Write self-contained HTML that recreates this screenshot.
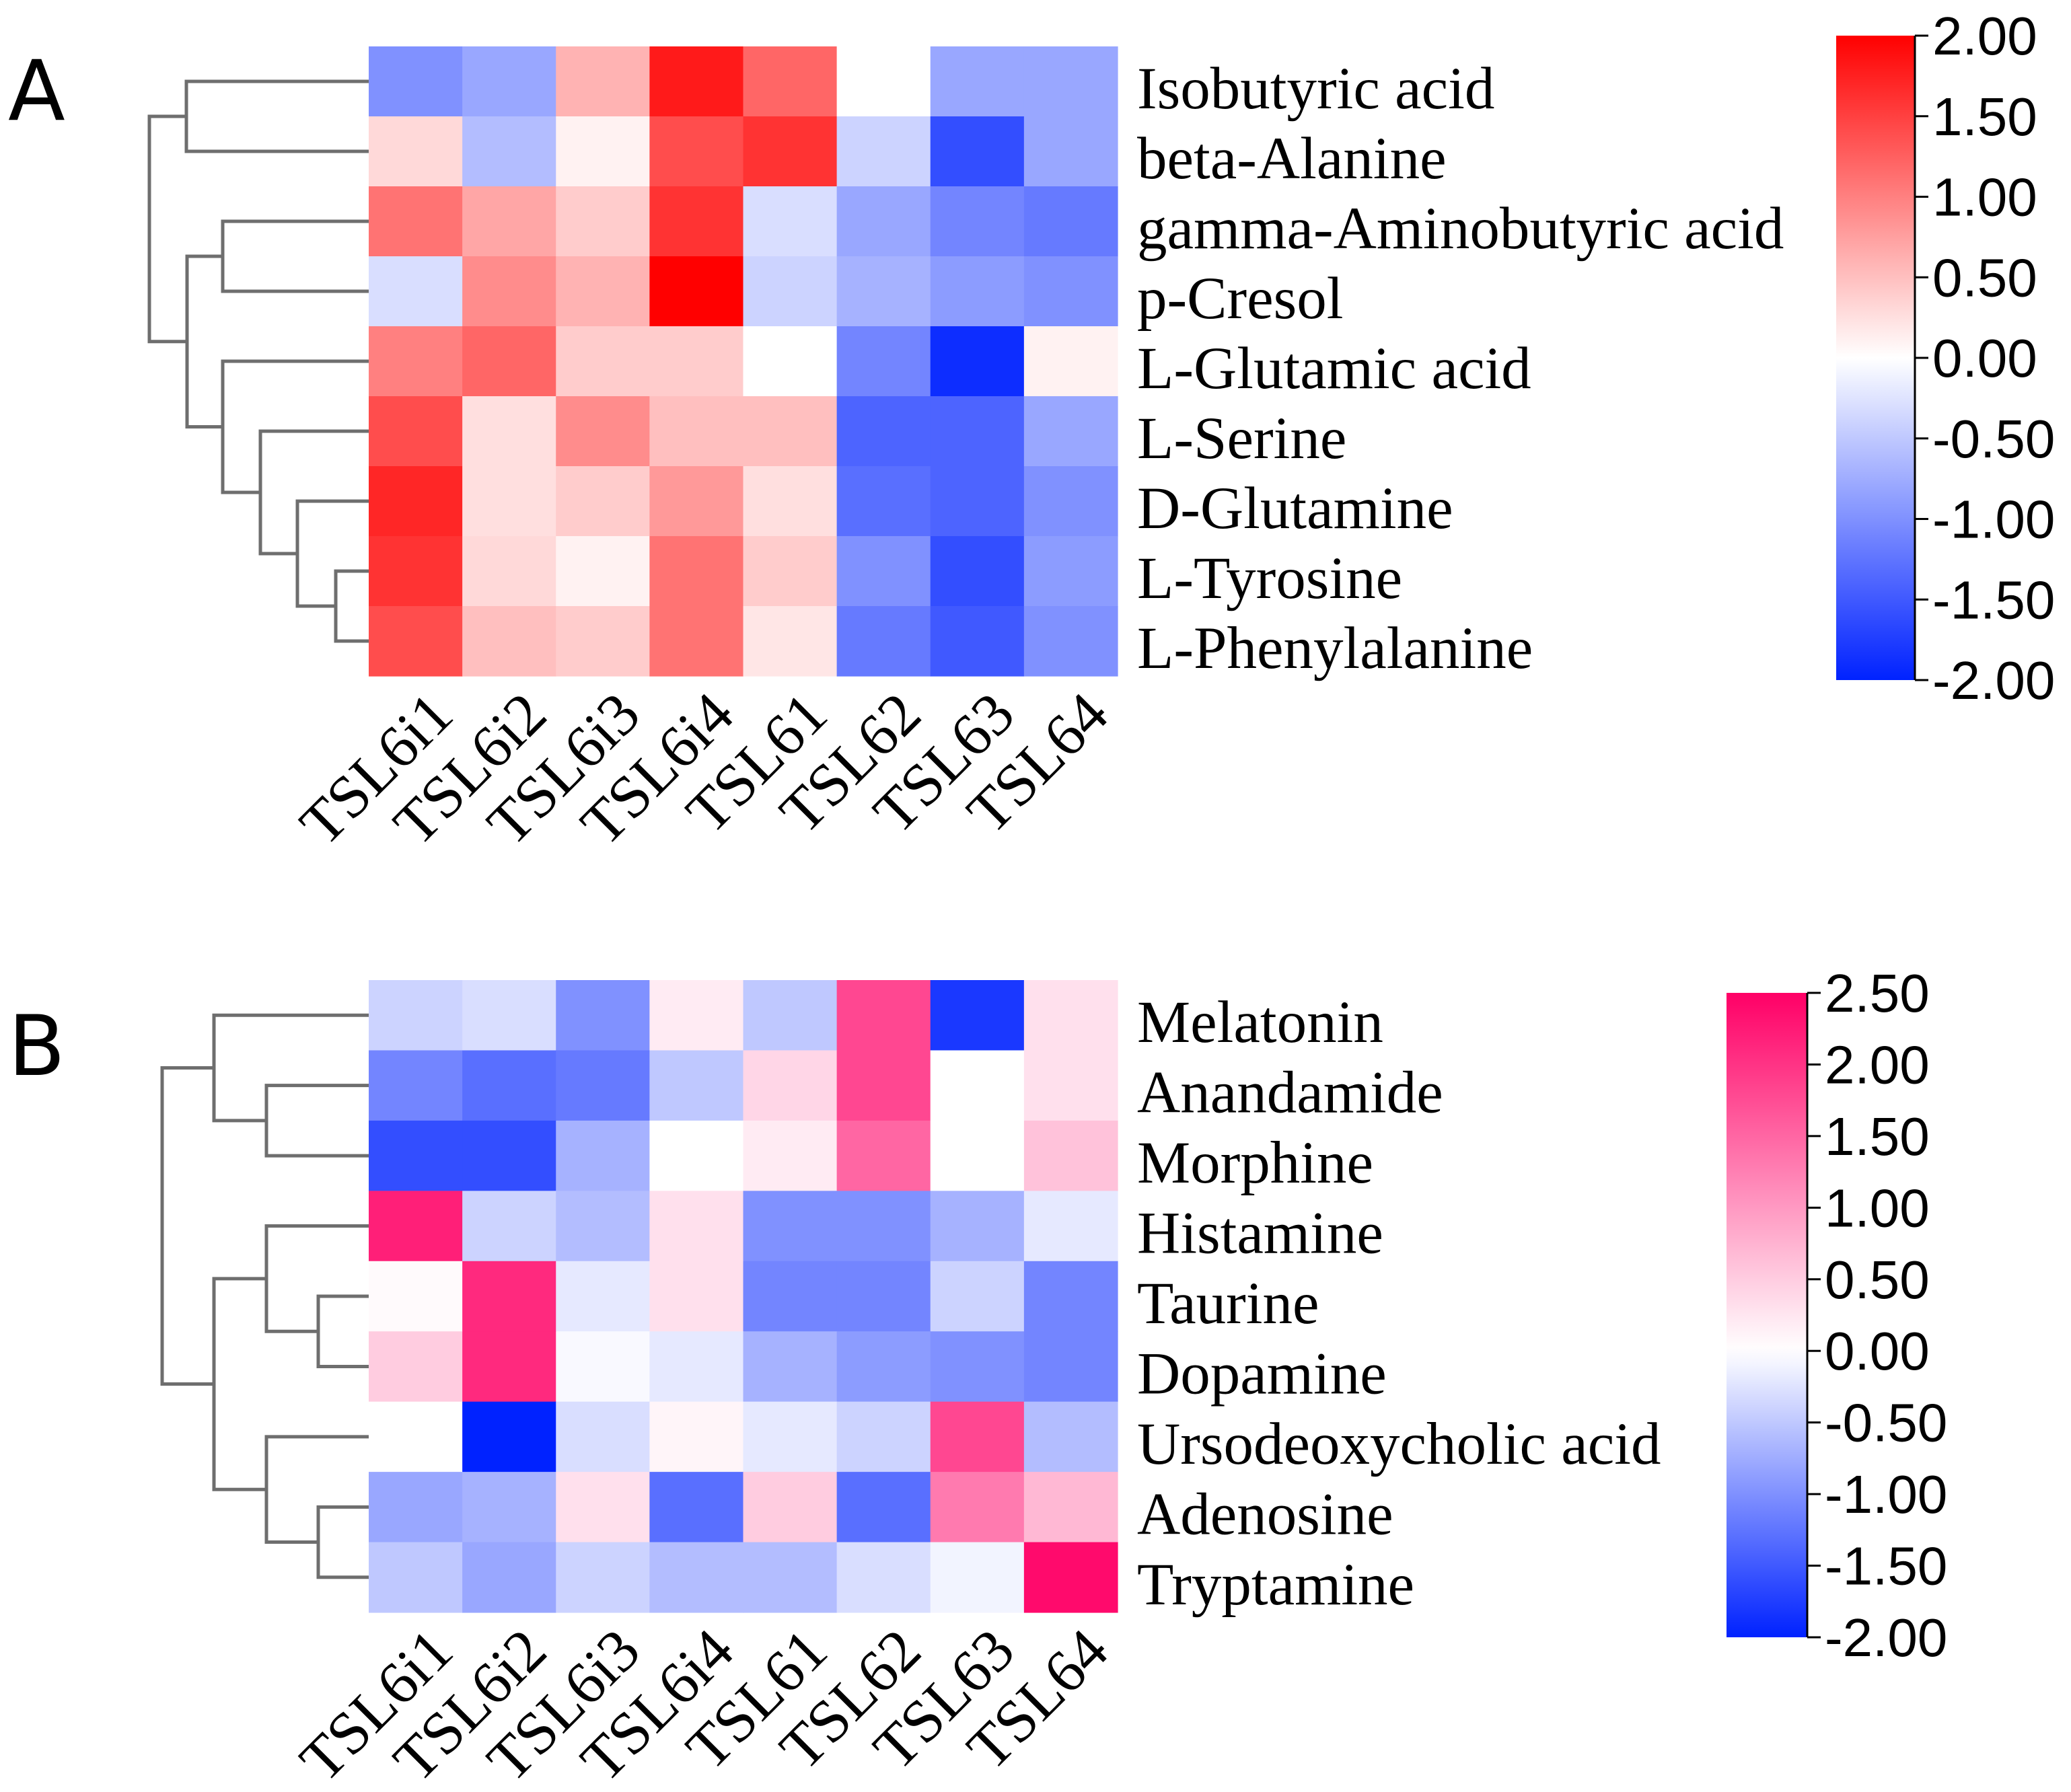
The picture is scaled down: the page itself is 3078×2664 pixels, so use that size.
<!DOCTYPE html>
<html><head><meta charset="utf-8"><style>html,body{margin:0;padding:0;background:#fff}svg{display:block}</style></head>
<body>
<svg id="chart" width="3078" height="2664" viewBox="0 0 3078 2664" xmlns="http://www.w3.org/2000/svg"></svg>
<script>
const samples = ["TSL6i1","TSL6i2","TSL6i3","TSL6i4","TSL61","TSL62","TSL63","TSL64"];
const rowsA = ["Isobutyric acid","beta-Alanine","gamma-Aminobutyric acid","p-Cresol","L-Glutamic acid","L-Serine","D-Glutamine","L-Tyrosine","L-Phenylalanine"];
const valuesA = [
 [-1.0,-0.8,0.6,1.8,1.2,0.0,-0.8,-0.8],
 [0.3,-0.6,0.1,1.4,1.6,-0.4,-1.6,-0.8],
 [1.1,0.7,0.4,1.6,-0.3,-0.8,-1.1,-1.2],
 [-0.3,0.9,0.6,2.0,-0.4,-0.7,-0.9,-1.0],
 [1.0,1.2,0.4,0.4,0.0,-1.1,-1.9,0.1],
 [1.4,0.25,0.9,0.5,0.5,-1.4,-1.4,-0.8],
 [1.7,0.25,0.4,0.8,0.25,-1.3,-1.4,-1.0],
 [1.6,0.3,0.1,1.1,0.4,-1.0,-1.6,-0.9],
 [1.4,0.5,0.4,1.1,0.2,-1.2,-1.5,-1.0]];
const ticksA = ["2.00","1.50","1.00","0.50","0.00","-0.50","-1.00","-1.50","-2.00"];
const rowsB = ["Melatonin","Anandamide","Morphine","Histamine","Taurine","Dopamine","Ursodeoxycholic acid","Adenosine","Tryptamine"];
const valuesB = [
 [-0.4,-0.3,-1.0,0.2,-0.5,1.8,-1.8,0.3],
 [-1.1,-1.3,-1.2,-0.5,0.4,1.8,0.0,0.3],
 [-1.6,-1.6,-0.7,0.0,0.2,1.5,0.0,0.6],
 [2.2,-0.4,-0.6,0.3,-1.0,-1.0,-0.7,-0.2],
 [0.05,2.1,-0.2,0.3,-1.1,-1.1,-0.4,-1.1],
 [0.5,2.1,-0.05,-0.2,-0.7,-0.9,-1.0,-1.1],
 [0.0,-2.0,-0.3,0.1,-0.2,-0.4,1.8,-0.6],
 [-0.8,-0.7,0.3,-1.3,0.5,-1.3,1.3,0.7],
 [-0.5,-0.8,-0.4,-0.6,-0.6,-0.3,-0.1,2.4]];
const ticksB = ["2.50","2.00","1.50","1.00","0.50","0.00","-0.50","-1.00","-1.50","-2.00"];

const NS="http://www.w3.org/2000/svg";
const svg=document.getElementById('chart');
function mk(tag,attrs,parent){const e=document.createElementNS(NS,tag);for(const k in attrs)e.setAttribute(k,attrs[k]);(parent||svg).appendChild(e);return e;}
function lerp(a,b,t){return Math.round(a+(b-a)*t);}
function colorA(v){const lo=[0,34,255],hi=[255,0,0];let t=Math.max(-1,Math.min(1,v/2));const c=t>=0?hi:lo;t=Math.abs(t);return `rgb(${lerp(255,c[0],t)},${lerp(255,c[1],t)},${lerp(255,c[2],t)})`;}
function colorB(v){const lo=[0,34,255],hi=[255,0,102];let t=v>=0?Math.min(1,v/2.5):Math.max(-1,v/2);const c=t>=0?hi:lo;t=Math.abs(t);return `rgb(${lerp(255,c[0],t)},${lerp(255,c[1],t)},${lerp(255,c[2],t)})`;}

function panel(cfg){
  const {rows,vals,top,bottom,colorFn,ticks,vmax,vmin,cb,letter,letterY,dendro,name}=cfg;
  const left=548,right=1661,nC=samples.length,nR=rows.length;
  const cw=(right-left)/nC,rh=(bottom-top)/nR;
  const g=mk('g',{});
  
  
  const L=mk('text',{x:12,y:letterY,'font-family':'DejaVu Sans, sans-serif','font-size':124,'font-weight':'normal'},g);
  L.textContent=letter;
  
  
  vals.forEach((r,i)=>r.forEach((v,j)=>{
    const c=mk('rect',{x:left+j*cw,y:top+i*rh,width:cw+0.6,height:rh+0.6,fill:colorFn(v)},g);
    
    
  }));
  rows.forEach((r,i)=>{
    const t=mk('text',{x:1690,y:top+(i+0.5)*rh+40,'font-family':'Liberation Serif, serif','font-size':89},g);
    t.textContent=r;
    
    
  });
  samples.forEach((s,j)=>{
    const x=left+(j+0.5)*cw+60,y=bottom+62;
    const t=mk('text',{x:x,y:y,'text-anchor':'end','font-family':'Liberation Serif, serif','font-size':90,transform:`rotate(-45 ${x} ${y})`},g);
    t.textContent=s;
    
    
  });
  const yc=i=>top+(i+0.5)*rh;
  const pth=dendro(yc);
  const d=mk('path',{d:pth,fill:'none',stroke:'#6e6e6e','stroke-width':5},g);
  
  
  const gid='grad'+letter;
  const defs=mk('defs',{},g);
  const lg=mk('linearGradient',{id:gid,x1:0,y1:0,x2:0,y2:1},defs);
  for(let k=0;k<=40;k++){const v=vmax-(vmax-vmin)*k/40;mk('stop',{offset:k/40,'stop-color':colorFn(v)},lg);}
  const bar=mk('rect',{x:cb.x,y:cb.top,width:cb.w,height:cb.bottom-cb.top,fill:`url(#${gid})`},g);
  
  
  mk('line',{x1:cb.x+cb.w,y1:cb.top,x2:cb.x+cb.w,y2:cb.bottom,stroke:'#000','stroke-width':3},g);
  ticks.forEach((tk,k)=>{
    const y=cb.top+(cb.bottom-cb.top)*k/(ticks.length-1);
    mk('line',{x1:cb.x+cb.w,y1:y,x2:cb.x+cb.w+20,y2:y,stroke:'#000','stroke-width':3},g);
    const t=mk('text',{x:cb.x+cb.w+26,y:y+28,'font-family':'Liberation Sans, sans-serif','font-size':80},g);
    t.textContent=tk;
    
    
  });
}
function br(x,y1,y2,xe1,xe2){return `M${xe1},${y1}H${x}V${y2}H${xe2}`;}
panel({name:'heatmap-a',rows:rowsA,vals:valuesA,top:69,bottom:1005,colorFn:colorA,ticks:ticksA,vmax:2,vmin:-2,
  cb:{x:2729,w:117,top:53,bottom:1011},letter:'A',letterY:178,
  dendro:yc=>{const L=548;
    const p1=(yc(0)+yc(1))/2, p2=(yc(2)+yc(3))/2, p3=(yc(7)+yc(8))/2, p4=(yc(6)+p3)/2, p5=(yc(5)+p4)/2, p6=(yc(4)+p5)/2, p7=(p2+p6)/2;
    return br(277,yc(0),yc(1),L,L)+br(331,yc(2),yc(3),L,L)+br(499,yc(7),yc(8),L,L)+br(442,yc(6),p3,L,499)+br(387,yc(5),p4,L,442)+br(331,yc(4),p5,L,387)+br(278,p2,p6,331,331)+br(222,p1,p7,277,278);}});
panel({name:'heatmap-b',rows:rowsB,vals:valuesB,top:1457,bottom:2397,colorFn:colorB,ticks:ticksB,vmax:2.5,vmin:-2,
  cb:{x:2566,w:120,top:1476,bottom:2434},letter:'B',letterY:1598,
  dendro:yc=>{const L=548;
    const p1=(yc(1)+yc(2))/2, p2=(yc(0)+p1)/2, p3=(yc(4)+yc(5))/2, p4=(yc(3)+p3)/2, p5=(yc(7)+yc(8))/2, p6=(yc(6)+p5)/2, p7=(p4+p6)/2;
    return br(396,yc(1),yc(2),L,L)+br(318,yc(0),p1,L,396)+br(473,yc(4),yc(5),L,L)+br(396,yc(3),p3,L,473)+br(473,yc(7),yc(8),L,L)+br(396,yc(6),p5,L,473)+br(318,p4,p6,396,396)+br(241,p2,p7,318,318);}});
</script>
</body></html>
